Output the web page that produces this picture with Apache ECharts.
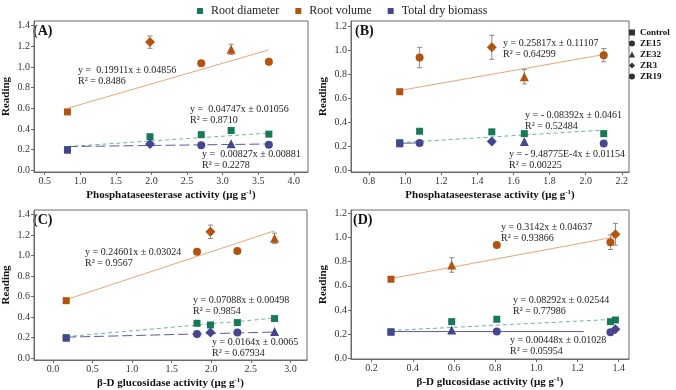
<!DOCTYPE html>
<html>
<head>
<meta charset="utf-8">
<script src="https://cdn.jsdelivr.net/npm/echarts@6/dist/echarts.min.js"></script>
<style>
  html, body { margin: 0; background: #fff; }
  #chart { width: 676px; height: 390px; }
</style>
</head>
<body>
<div id="chart"></div>
<script>
var serif = '"Liberation Serif", "Times New Roman", serif';

var treatments = ['Control', 'ZE15', 'ZE32', 'ZR3', 'ZR19'];
var shapes = ['rect', 'circle', 'triangle', 'diamond', 'circle'];
var shapeSize = [7, 8, 9, 10, 8];
var groups = ['Root diameter', 'Root volume', 'Total dry biomass'];
var colors = ['#17785a', '#b4520f', '#46458f'];

// (A) phosphataseesterase vs reading
var xA = [0.82, 2.70, 3.12, 1.98, 3.65];
var diamA = [0.20, 0.345, 0.385, 0.325, 0.35];
var volA = [0.565, 1.035, 1.17, 1.24, 1.05];
var volErrA = [0.01, 0.025, 0.05, 0.06, 0.02];
var bioA = [0.195, 0.243, 0.257, 0.254, 0.248];
var trendA = [[[0.82, 0.23], [3.65, 0.36]], [[0.82, 0.60], [3.65, 1.165]], [[0.82, 0.23], [3.65, 0.255]]];

// (B)
var xB = [0.97, 1.08, 1.66, 1.48, 2.10];
var diamB = [0.23, 0.325, 0.305, 0.32, 0.305];
var volB = [0.655, 0.94, 0.78, 1.025, 0.96];
var volErrB = [0.01, 0.085, 0.06, 0.10, 0.055];
var bioB = [0.22, 0.228, 0.24, 0.24, 0.222];
var trendB = [[[0.97, 0.23], [2.10, 0.335]], [[0.97, 0.665], [2.10, 0.965]], [[0.97, 0.225], [1.08, 0.227]]];

// (C) glucosidase
var xC = [0.167, 1.82, 2.80, 1.99, 2.33];
var diamC = [0.20, 0.34, 0.386, 0.324, 0.347];
var volC = [0.56, 1.037, 1.167, 1.23, 1.043];
var volErrC = [0.01, 0.02, 0.05, 0.065, 0.02];
var bioC = [0.195, 0.237, 0.259, 0.25, 0.25];
var trendC = [[[0.167, 0.21], [2.80, 0.39]], [[0.167, 0.57], [2.80, 1.24]], [[0.167, 0.205], [2.80, 0.255]]];

// (D)
var xD = [0.294, 0.808, 0.589, 1.384, 1.36];
var diamD = [0.22, 0.323, 0.303, 0.317, 0.303];
var volD = [0.654, 0.938, 0.772, 1.026, 0.96];
var volErrD = [0.01, 0.01, 0.06, 0.09, 0.06];
var bioD = [0.215, 0.221, 0.234, 0.24, 0.215];
var trendD = [[[0.294, 0.23], [1.384, 0.323]], [[0.294, 0.66], [1.384, 1.005]], [[0.294, 0.221], [1.23, 0.221]]];

// tick labels
var ticksXA = [0.5, 1.0, 1.5, 2.0, 2.5, 3.0, 3.5, 4.0];
var ticksXB = [0.8, 1.0, 1.2, 1.4, 1.6, 1.8, 2.0, 2.2];
var ticksXC = [0.0, 0.5, 1.0, 1.5, 2.0, 2.5, 3.0];
var ticksXD = [0.2, 0.4, 0.6, 0.8, 1.0, 1.2, 1.4];
var ticksY14 = [0.0, 0.2, 0.4, 0.6, 0.8, 1.0, 1.2, 1.4];
var ticksY12 = [0.0, 0.2, 0.4, 0.6, 0.8, 1.0, 1.2];

// equations: [x, y, line1, line2]
var eqs = [
  [78, 70, 'y =  0.19911x \u00b1 0.04856', 'R\u00b2 = 0.8486'],
  [190, 109, 'y =  0.04747x \u00b1 0.01056', 'R\u00b2 = 0.8710'],
  [202, 154, 'y =  0.00827x \u00b1 0.00881', 'R\u00b2 = 0.2278'],
  [503, 43, 'y = 0.25817x \u00b1 0.11107', 'R\u00b2 = 0.64299'],
  [525, 115, 'y = - 0.08392x \u00b1 0.0461', 'R\u00b2 = 0.52484'],
  [509, 154, 'y = - 9.48775E-4x \u00b1 0.01154', 'R\u00b2 = 0.00225'],
  [85, 252, 'y = 0.24601x \u00b1 0.03024', 'R\u00b2 = 0.9567'],
  [193, 300, 'y = 0.07088x \u00b1 0.00498', 'R\u00b2 = 0.9854'],
  [212, 342, 'y = 0.0164x \u00b1 0.0065', 'R\u00b2 = 0.67934'],
  [501, 227, 'y = 0.3142x \u00b1 0.04637', 'R\u00b2 = 0.93866'],
  [513, 300, 'y = 0.08292x \u00b1 0.02544', 'R\u00b2 = 0.77986'],
  [510, 340, 'y = 0.00448x \u00b1 0.01028', 'R\u00b2 = 0.05954']
];

var panels = [
  { tag: '(A)', grid: { left: 30, top: 21, width: 278, height: 151 }, xr: [0.35, 4.2], yr: [-0.016, 1.444], xt: ticksXA, yt: ticksY14,
    name: 'Phosphataseesterase activity (\u03bcg g{s|-1})', x: xA, diam: diamA, vol: volA, err: volErrA, bio: bioA, trend: trendA, bioDash: [10, 4], tagPos: [33, 32] },
  { tag: '(B)', grid: { left: 351, top: 21, width: 278, height: 151 }, xr: [0.7, 2.24], yr: [-0.015, 1.245], xt: ticksXB, yt: ticksY12,
    name: 'Phosphataseesterase activity (\u03bcg g{s|-1})', x: xB, diam: diamB, vol: volB, err: volErrB, bio: bioB, trend: trendB, bioDash: 'solid', tagPos: [355, 32] },
  { tag: '(C)', grid: { left: 30, top: 210, width: 277, height: 150 }, xr: [-0.24, 3.21], yr: [-0.017, 1.442], xt: ticksXC, yt: ticksY14,
    name: '\u03b2-D glucosidase activity (\u03bcg g{s|-1})', x: xC, diam: diamC, vol: volC, err: volErrC, bio: bioC, trend: trendC, bioDash: [10, 4], tagPos: [33, 221] },
  { tag: '(D)', grid: { left: 351, top: 210, width: 278, height: 149 }, xr: [0.1, 1.45], yr: [-0.006, 1.227], xt: ticksXD, yt: ticksY12,
    name: '\u03b2-D glucosidase activity (\u03bcg g{s|-1})', x: xD, diam: diamD, vol: volD, err: volErrD, bio: bioD, trend: trendD, bioDash: 'solid', tagPos: [353, 221] }
];

// root diameter points are all squares; the other two use the treatment shapes
function points(xs, ys, squaresOnly) {
  return xs.map(function (x, i) {
    return {
      value: [x, ys[i]],
      symbol: squaresOnly ? 'rect' : shapes[i],
      symbolSize: squaresOnly ? 7 : shapeSize[i],
      name: treatments[i]
    };
  });
}

function renderErr(params, api) {
  var x = api.value(0);
  var top = api.coord([x, api.value(2)]);
  var bot = api.coord([x, api.value(1)]);
  var w = 2.5;
  var st = { stroke: '#8a8a8a', lineWidth: 1 };
  return {
    type: 'group',
    children: [
      { type: 'line', shape: { x1: top[0], y1: top[1], x2: bot[0], y2: bot[1] }, style: st },
      { type: 'line', shape: { x1: top[0] - w, y1: top[1], x2: top[0] + w, y2: top[1] }, style: st },
      { type: 'line', shape: { x1: bot[0] - w, y1: bot[1], x2: bot[0] + w, y2: bot[1] }, style: st }
    ]
  };
}

var grids = [], xAxes = [], yAxes = [], series = [], graphics = [];
var lineColors = ['#6db69c', '#e6a77c', '#5b5aa3'];

panels.forEach(function (p, k) {
  grids.push(Object.assign({ show: true, borderColor: '#6a6a6a', borderWidth: 1, backgroundColor: 'transparent' }, p.grid));
  xAxes.push({
    type: 'value', gridIndex: k, min: p.xr[0], max: p.xr[1],
    name: p.name, nameLocation: 'middle', nameGap: 17,
    nameTextStyle: { fontFamily: serif, fontWeight: 'bold', fontSize: 11, color: '#111',
      rich: { s: { fontFamily: serif, fontWeight: 'bold', fontSize: 7, color: '#111', padding: [0, 0, 6, 0] } } },
    axisLine: { show: true, onZero: false, lineStyle: { color: '#6a6a6a' } },
    axisTick: { show: true, inside: false, length: 3, customValues: p.xt, lineStyle: { color: '#6a6a6a' } },
    axisLabel: { customValues: p.xt, margin: 4, fontFamily: serif, fontSize: 10, color: '#333',
      formatter: function (v) { return v.toFixed(1); } },
    splitLine: { show: false }
  });
  yAxes.push({
    type: 'value', gridIndex: k, min: p.yr[0], max: p.yr[1],
    name: 'Reading', nameLocation: 'middle', nameGap: 22, nameRotate: 90,
    nameTextStyle: { fontFamily: serif, fontWeight: 'bold', fontSize: 11, color: '#111' },
    axisLine: { show: true, onZero: false, lineStyle: { color: '#6a6a6a' } },
    axisTick: { show: true, inside: false, length: 3, customValues: p.yt, lineStyle: { color: '#6a6a6a' } },
    axisLabel: { customValues: p.yt, margin: 4, fontFamily: serif, fontSize: 10, color: '#333',
      formatter: function (v) { return v.toFixed(1); } },
    splitLine: { show: false }
  });

  // trend lines
  p.trend.forEach(function (seg, j) {
    var dash = j === 0 ? [4, 3] : (j === 1 ? 'solid' : p.bioDash);
    series.push({
      type: 'line', xAxisIndex: k, yAxisIndex: k, data: seg, symbol: 'none', silent: true,
      lineStyle: { color: lineColors[j], width: 1, type: dash }, z: 1
    });
  });

  // error bars for root volume
  series.push({
    type: 'custom', xAxisIndex: k, yAxisIndex: k, renderItem: renderErr, silent: true, z: 2,
    data: p.x.map(function (x, i) { return [x, p.vol[i] - p.err[i], p.vol[i] + p.err[i]]; })
  });

  [p.diam, p.vol, p.bio].forEach(function (ys, j) {
    series.push({
      type: 'scatter', name: groups[j], xAxisIndex: k, yAxisIndex: k, z: 3 + j,
      itemStyle: { color: colors[j], opacity: 1 },
      data: points(p.x, ys, j === 0)
    });
  });

  graphics.push({
    type: 'text', left: p.tagPos[0], top: p.tagPos[1] - 8,
    style: { text: p.tag, font: 'bold 14px ' + serif, fill: '#111' }
  });
});

eqs.forEach(function (e) {
  graphics.push({ type: 'text', x: e[0], y: e[1], style: { text: e[2], font: '10px ' + serif, fill: '#222', verticalAlign: 'middle' } });
  graphics.push({ type: 'text', x: e[0], y: e[1] + 11, style: { text: e[3], font: '10px ' + serif, fill: '#222', verticalAlign: 'middle' } });
});

// dummy series for the treatment symbol legend
treatments.forEach(function (t, i) {
  series.push({ type: 'scatter', name: t, xAxisIndex: 0, yAxisIndex: 0, data: [], symbol: shapes[i], itemStyle: { color: '#000' } });
});

var chart = echarts.init(document.getElementById('chart'));
chart.setOption({
  animation: false,
  backgroundColor: '#fff',
  grid: grids,
  xAxis: xAxes,
  yAxis: yAxes,
  legend: [
    {
      data: groups, left: 192, top: 0, icon: 'rect', itemWidth: 6, itemHeight: 6, itemGap: 16,
      textStyle: { fontFamily: serif, fontSize: 12, color: '#222', padding: [0, 0, 0, 3] },
      selectedMode: false
    },
    {
      data: treatments.map(function (t, i) { return { name: t, icon: shapes[i] }; }),
      orient: 'vertical', left: 629, top: 28, itemWidth: 6, itemHeight: 6, itemGap: 2, padding: 0,
      textStyle: { fontFamily: serif, fontSize: 9, fontWeight: 'bold', color: '#111', lineHeight: 9, padding: 0 },
      selectedMode: false
    }
  ],
  graphic: graphics,
  series: series
});
</script>
</body>
</html>
